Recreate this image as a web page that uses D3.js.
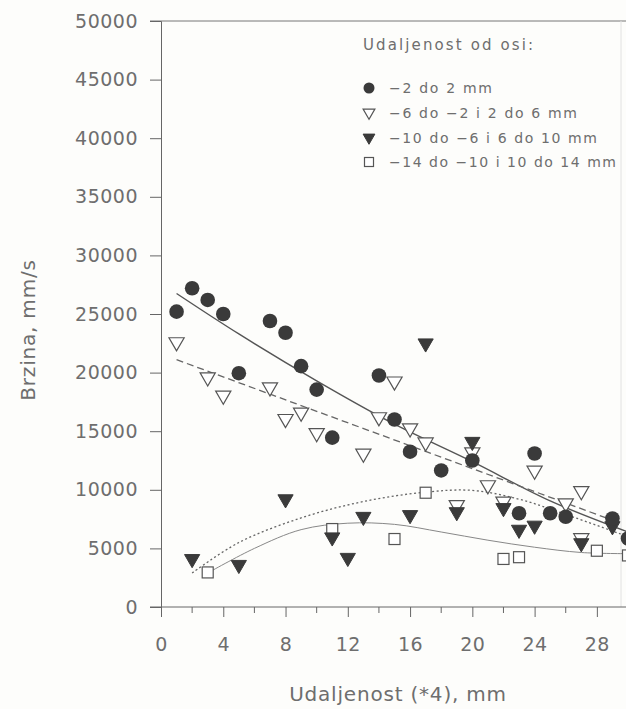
<!DOCTYPE html>
<html>
<head>
<meta charset="utf-8">
<script src="https://cdn.jsdelivr.net/npm/d3@7"></script>
<style>
  body { margin: 0; background: #fdfdfb; }
  svg { display: block; }
  text { font-family: "DejaVu Sans", sans-serif; fill: #6e6e6e; }
</style>
</head>
<body>
<div id="chart"></div>
<script>
// values
const circleX = [1, 2, 3, 4, 5, 7, 8, 9, 10, 11, 14, 15, 16, 18, 20, 23, 24, 25, 26, 29, 30];
const circleY = [25200, 27200, 26200, 25000, 19950, 24400, 23400, 20550, 18550, 14450, 19750, 16000, 13250, 11650, 12500, 8000, 13100, 8000, 7700, 7550, 5850];

const openTriX = [1, 3, 4, 7, 8, 9, 10, 13, 14, 15, 16, 17, 19, 20, 21, 22, 24, 26, 27, 27];
const openTriY = [22600, 19600, 18050, 18750, 16050, 16600, 14850, 13100, 16200, 19250, 15250, 14050, 8700, 13200, 10400, 9000, 11650, 8850, 9900, 5880];

const fillTriX = [2, 5, 8, 11, 12, 13, 16, 17, 19, 20, 22, 23, 24, 27, 29];
const fillTriY = [4100, 3600, 9200, 5950, 4200, 7700, 7850, 22500, 8100, 14100, 8450, 6600, 6950, 5450, 6900];

const squareX = [3, 11, 15, 17, 22, 23, 28, 30];
const squareY = [2950, 6650, 5800, 9750, 4100, 4250, 4800, 4400];

// fitted curves
const fitCircleX = [1, 5, 10, 15, 20, 25, 30];
const fitCircleY = [26750, 23300, 19300, 15600, 12400, 9050, 6400];
const fitOpenX = [1, 28.6];
const fitOpenY = [21100, 7600];
const fitFillX = [2, 5, 9, 13, 17, 20, 23, 26, 30];
const fitFillY = [2900, 5500, 7600, 9000, 9800, 9950, 9200, 7900, 6000];
const fitSquareX = [3, 6, 9, 12, 15, 18, 21, 24, 27, 30];
const fitSquareY = [2900, 5000, 6600, 7150, 7050, 6400, 5700, 5100, 4650, 4550];

const yTicks = [0, 5000, 10000, 15000, 20000, 25000, 30000, 35000, 40000, 45000, 50000];
const xTicks = [0, 4, 8, 12, 16, 20, 24, 28];
const xMinor = [2, 6, 10, 14, 18, 22, 26, 30];

const legendTitle = "Udaljenost od osi:";
const legendLabels = ["\u22122 do 2 mm", "\u22126 do \u22122 i 2 do 6 mm", "\u221210 do \u22126 i 6 do 10 mm", "\u221214 do \u221210 i 10 do 14 mm"];

const width = 626, height = 709;
const plotLeft = 161, plotTop = 21, plotBottom = 607, plotRight = 628;
const ink = "#3a3a3a";

const svg = d3.select("#chart").append("svg")
    .attr("width", width)
    .attr("height", height);

const x = d3.scaleLinear().domain([0, 30]).range([plotLeft, plotRight]);
const y = d3.scaleLinear().domain([0, 50000]).range([plotBottom, plotTop]);

// frame lines
svg.append("line")
    .attr("x1", plotLeft - 11).attr("x2", width)
    .attr("y1", y(50000)).attr("y2", y(50000))
    .attr("stroke", "#777").attr("stroke-width", 1);
svg.append("line")
    .attr("x1", 621).attr("x2", 621)
    .attr("y1", y(50000)).attr("y2", plotBottom)
    .attr("stroke", "#e2e2e2").attr("stroke-width", 1);

// y axis
let yAxis = svg.append("g")
    .attr("transform", "translate(" + plotLeft + ",0)")
    .call(d3.axisLeft(y).tickValues(yTicks).tickSize(11).tickPadding(12).tickFormat(d3.format("d")));
yAxis.select(".domain").attr("stroke", "#666");
yAxis.selectAll(".tick line").attr("stroke", "#666");
yAxis.selectAll("text")
    .style("font-family", "DejaVu Sans")
    .style("font-size", "19px")
    .style("letter-spacing", "0.5px")
    .attr("fill", "#858585");

// x axis
let xAxis = svg.append("g")
    .attr("transform", "translate(0," + plotBottom + ")")
    .call(d3.axisBottom(x).tickValues(xTicks).tickSize(10).tickPadding(21).tickSizeOuter(0));
xAxis.select(".domain").attr("d", "M" + (plotLeft - 11) + ",0H" + width).attr("stroke", "#666");
xAxis.selectAll(".tick line").attr("stroke", "#666");
xAxis.selectAll("text")
    .style("font-family", "DejaVu Sans")
    .style("font-size", "19px")
    .style("letter-spacing", "0.5px")
    .attr("fill", "#858585");

svg.append("g").selectAll("line")
    .data(xMinor)
    .enter().append("line")
    .attr("x1", d => x(d)).attr("x2", d => x(d))
    .attr("y1", plotBottom).attr("y2", plotBottom + 6)
    .attr("stroke", "#666");

// axis titles
svg.append("text")
    .attr("x", 398).attr("y", 701)
    .attr("text-anchor", "middle")
    .style("font-size", "20px")
    .style("letter-spacing", "0.8px")
    .text("Udaljenost (*4), mm");

svg.append("text")
    .attr("transform", "translate(35,330) rotate(-90)")
    .attr("text-anchor", "middle")
    .style("font-size", "20px")
    .style("letter-spacing", "0.8px")
    .text("Brzina, mm/s");

// fit curves
let line = d3.line()
    .x(d => x(d[0]))
    .y(d => y(d[1]))
    .curve(d3.curveCatmullRom);

svg.append("path")
    .datum(d3.zip(fitCircleX, fitCircleY))
    .attr("d", line)
    .attr("fill", "none")
    .attr("stroke", "#555")
    .attr("stroke-width", 1.4);

svg.append("path")
    .datum(d3.zip(fitOpenX, fitOpenY))
    .attr("d", line)
    .attr("fill", "none")
    .attr("stroke", "#666")
    .attr("stroke-width", 1.3)
    .attr("stroke-dasharray", "7,4");

svg.append("path")
    .datum(d3.zip(fitFillX, fitFillY))
    .attr("d", line)
    .attr("fill", "none")
    .attr("stroke", "#666")
    .attr("stroke-width", 1.3)
    .attr("stroke-dasharray", "2,2.5");

svg.append("path")
    .datum(d3.zip(fitSquareX, fitSquareY))
    .attr("d", line)
    .attr("fill", "none")
    .attr("stroke", "#888")
    .attr("stroke-width", 1);

// markers
const triDown = d3.symbol().type(d3.symbolTriangle).size(100);

function circles(g, data) {
    g.selectAll("circle").data(data).enter().append("circle")
        .attr("cx", d => d[0]).attr("cy", d => d[1])
        .attr("r", 7.3)
        .attr("fill", ink);
}
function triangles(g, data, filled) {
    g.selectAll("path").data(data).enter().append("path")
        .attr("d", triDown)
        .attr("transform", d => "translate(" + d[0] + "," + d[1] + ") rotate(180)")
        .attr("fill", filled ? ink : "#fff")
        .attr("stroke", filled ? ink : "#555")
        .attr("stroke-width", filled ? 1 : 1.2);
}
function squares(g, data) {
    g.selectAll("rect").data(data).enter().append("rect")
        .attr("x", d => d[0] - 5.5).attr("y", d => d[1] - 5.5)
        .attr("width", 11).attr("height", 11)
        .attr("fill", "#fff")
        .attr("stroke", "#555")
        .attr("stroke-width", 1.2);
}

const px = (xs, ys) => xs.map((v, i) => [x(v), y(ys[i])]);

squares(svg.append("g"), px(squareX, squareY));
triangles(svg.append("g"), px(openTriX, openTriY), false);
triangles(svg.append("g"), px(fillTriX, fillTriY), true);
circles(svg.append("g"), px(circleX, circleY));

// legend
let legend = svg.append("g");
legend.append("text")
    .attr("x", 363).attr("y", 50)
    .style("font-size", "15px")
    .attr("textLength", 170)
    .attr("lengthAdjust", "spacing")
    .text(legendTitle);

const rowY = [88, 112.5, 137.5, 162];
const rowLen = [103, 188, 208, 227];

circles(legend.append("g"), [[369, rowY[0]]]);
legend.select("circle").attr("r", 5.5);
triangles(legend.append("g"), [[369, rowY[1]]], false);
triangles(legend.append("g"), [[369, rowY[2]]], true);
squares(legend.append("g"), [[369, rowY[3]]]);
legend.selectAll("path").attr("d", d3.symbol().type(d3.symbolTriangle).size(60));
legend.selectAll("rect").attr("width", 9).attr("height", 9).attr("x", 364.5).attr("y", rowY[3] - 4.5);

legend.selectAll(".lab").data(legendLabels).enter().append("text")
    .attr("class", "lab")
    .attr("x", 389)
    .attr("y", (d, i) => rowY[i] + 5)
    .style("font-size", "14px")
    .attr("textLength", (d, i) => rowLen[i])
    .attr("lengthAdjust", "spacing")
    .text(d => d);
</script>
</body>
</html>
